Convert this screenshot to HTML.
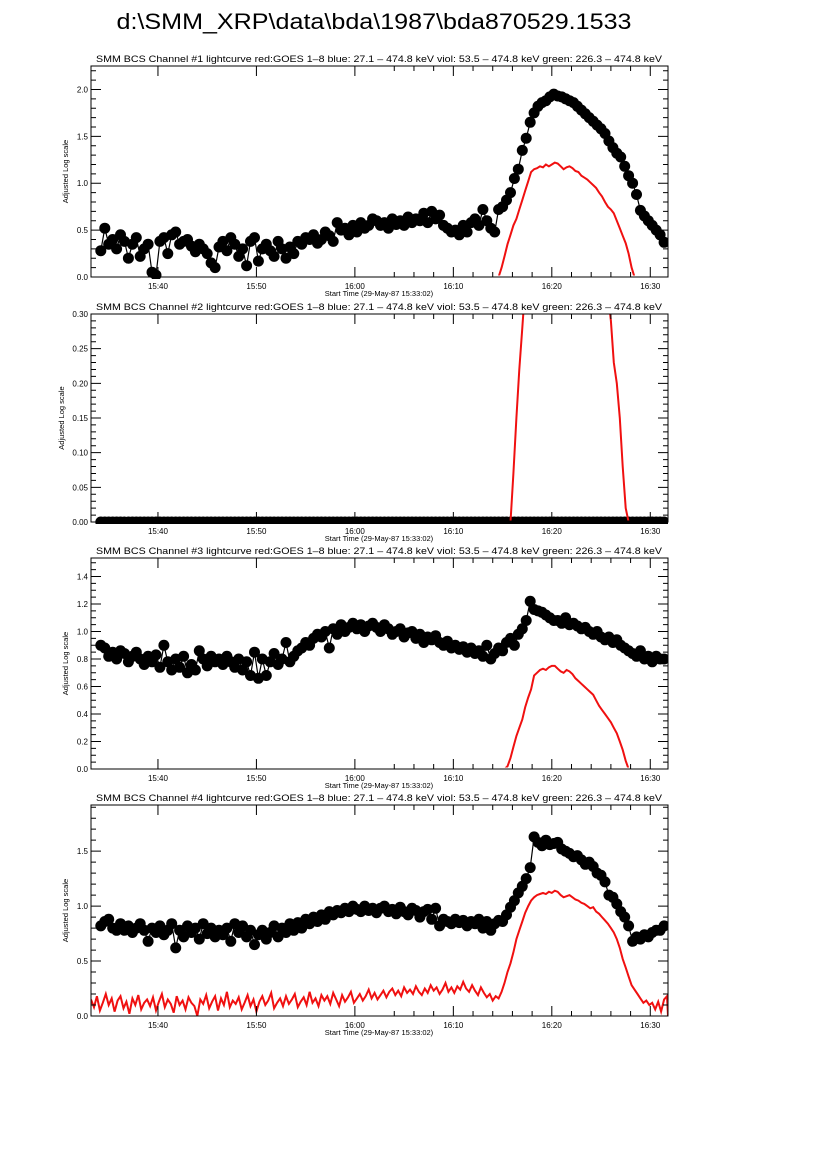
<!DOCTYPE html>
<html><head><meta charset="utf-8"><style>
html,body{margin:0;padding:0;background:#fff;}
svg{display:block;font-family:"Liberation Sans",sans-serif;}
</style></head><body>
<svg id="fig" width="826" height="1169" viewBox="0 0 826 1169" xmlns="http://www.w3.org/2000/svg">
<rect width="826" height="1169" fill="#fff"/>
<text x="374" y="29" font-size="22" text-anchor="middle" textLength="515" lengthAdjust="spacingAndGlyphs">d:\SMM_XRP\data\bda\1987\bda870529.1533</text>
</svg>
<script>
// time axis: minutes since 15:30
const tMin = 3.2, tMax = 61.8;
const blackT0 = 4.2, blackDt = 0.4;
const redT0 = 44.0, redDt = 0.3;
const red4T0 = 3.2, red4Dt = 0.3;
const xTickLabels = ["15:40","15:50","16:00","16:10","16:20","16:30"];
const xTickValues = [10,20,30,40,50,60];

const black1 = [0.28,0.52,0.35,0.40,0.30,0.45,0.38,0.20,0.35,0.42,
0.22,0.30,0.35,0.05,0.02,0.38,0.42,0.25,0.45,0.48,
0.35,0.38,0.40,0.33,0.27,0.35,0.30,0.25,0.15,0.10,
0.32,0.38,0.28,0.42,0.35,0.22,0.30,0.12,0.38,0.42,
0.17,0.30,0.35,0.28,0.22,0.38,0.30,0.20,0.32,0.25,
0.38,0.35,0.42,0.40,0.45,0.36,0.40,0.48,0.44,0.38,
0.58,0.50,0.52,0.45,0.55,0.48,0.58,0.52,0.55,0.62,
0.60,0.55,0.58,0.52,0.62,0.56,0.60,0.55,0.64,0.58,
0.62,0.60,0.68,0.58,0.70,0.62,0.66,0.55,0.52,0.48,
0.50,0.45,0.55,0.48,0.58,0.62,0.55,0.72,0.60,0.52,
0.48,0.72,0.75,0.82,0.90,1.05,1.15,1.35,1.48,1.65,
1.75,1.82,1.86,1.88,1.92,1.95,1.93,1.92,1.90,1.88,
1.86,1.82,1.78,1.74,1.70,1.66,1.62,1.58,1.53,1.45,
1.38,1.32,1.28,1.18,1.08,1.00,0.88,0.71,0.65,0.60,
0.55,0.50,0.45,0.37];
const black2 = new Array(144).fill(0);
const black3 = [0.90,0.88,0.82,0.85,0.80,0.86,0.84,0.78,0.82,0.85,
0.80,0.76,0.82,0.78,0.83,0.74,0.90,0.78,0.72,0.80,
0.74,0.82,0.70,0.76,0.72,0.86,0.80,0.75,0.82,0.78,
0.80,0.76,0.82,0.78,0.74,0.80,0.72,0.78,0.68,0.85,
0.66,0.80,0.68,0.78,0.84,0.76,0.80,0.92,0.78,0.82,
0.86,0.88,0.92,0.90,0.95,0.98,0.96,1.00,0.88,1.02,
0.98,1.05,1.00,1.03,1.06,1.02,1.05,1.00,1.04,1.06,
1.03,1.00,1.05,1.02,0.98,1.00,1.02,0.96,0.99,1.00,
0.95,0.98,0.92,0.96,0.94,0.97,0.92,0.90,0.93,0.88,
0.90,0.87,0.89,0.85,0.88,0.84,0.86,0.82,0.90,0.80,
0.84,0.88,0.86,0.92,0.95,0.90,0.98,1.02,1.08,1.22,
1.16,1.15,1.14,1.12,1.10,1.08,1.08,1.06,1.10,1.05,
1.06,1.04,1.02,1.03,1.00,0.98,1.00,0.96,0.94,0.96,
0.92,0.94,0.90,0.88,0.86,0.84,0.82,0.86,0.80,0.82,
0.78,0.82,0.80,0.80];
const black4 = [0.82,0.86,0.88,0.80,0.78,0.84,0.78,0.82,0.76,0.80,
0.84,0.78,0.68,0.80,0.76,0.82,0.74,0.78,0.84,0.62,
0.78,0.72,0.82,0.76,0.80,0.70,0.84,0.75,0.80,0.72,
0.78,0.74,0.80,0.68,0.84,0.76,0.82,0.72,0.78,0.65,
0.74,0.78,0.70,0.76,0.82,0.72,0.80,0.76,0.84,0.78,
0.85,0.80,0.88,0.84,0.90,0.86,0.92,0.88,0.95,0.92,
0.96,0.94,0.98,0.95,1.00,0.97,0.95,1.00,0.96,0.98,
0.94,0.98,1.00,0.95,0.97,0.93,0.99,0.95,0.92,0.98,
0.96,0.90,0.95,0.97,0.88,0.98,0.82,0.88,0.86,0.84,
0.88,0.85,0.87,0.82,0.86,0.84,0.88,0.80,0.86,0.78,
0.84,0.87,0.86,0.92,0.99,1.05,1.12,1.18,1.25,1.35,
1.63,1.58,1.55,1.60,1.56,1.57,1.58,1.52,1.50,1.48,
1.45,1.46,1.42,1.38,1.40,1.36,1.30,1.28,1.22,1.10,
1.08,1.02,0.95,0.90,0.82,0.68,0.72,0.70,0.74,0.72,
0.76,0.78,0.78,0.82];

const red1 = [0,0,0,0.1,0.22,0.35,0.45,0.55,0.62,0.72,
0.82,0.92,1.02,1.12,1.15,1.16,1.18,1.17,1.20,1.18,
1.20,1.22,1.21,1.18,1.15,1.17,1.18,1.16,1.13,1.12,
1.08,1.06,1.04,1.01,0.98,0.95,0.90,0.86,0.80,0.75,
0.72,0.68,0.60,0.52,0.44,0.36,0.25,0.10,0,0,0];
const red2 = [0,0,0,0,0,0,0,0.07,0.15,0.22,
0.28,0.34,1,1,1,1,1,1,1,1,
1,1,1,1,1,1,1,1,1,1,
1,1,1,1,1,1,1,1,0.35,0.33,
0.29,0.23,0.20,0.15,0.08,0.02,0,0,0,0,0];
const red3 = [0,0,0,0,0,0.02,0.08,0.16,0.24,0.30,
0.36,0.45,0.52,0.58,0.68,0.70,0.72,0.73,0.72,0.74,
0.75,0.75,0.73,0.71,0.70,0.72,0.71,0.69,0.66,0.64,
0.62,0.60,0.58,0.56,0.54,0.50,0.46,0.43,0.40,0.37,
0.34,0.30,0.26,0.20,0.14,0.06,0,0,0,0,0];
const red4 = [.15,.08,.18,.05,.12,.20,.10,.16,.04,.14,.18,.07,.13,.02,.16,.10,.19,.06,.12,.15,
.09,.17,.05,.13,.20,.08,.15,.11,.03,.18,.10,.14,.06,.17,.12,.09,.00,.15,.11,.19,
.07,.13,.18,.05,.16,.10,.22,.08,.14,.11,.17,.06,.12,.19,.09,.15,.04,.13,.18,.10,
.14,.21,.07,.12,.16,.09,.18,.11,.15,.20,.08,.13,.17,.10,.22,.12,.16,.09,.19,.14,
.18,.11,.21,.15,.09,.19,.13,.17,.22,.12,.16,.20,.14,.18,.24,.16,.21,.15,.19,.23,
.17,.22,.25,.19,.23,.18,.26,.21,.24,.20,.27,.22,.19,.25,.21,.28,.23,.26,.20,.24,
.30,.22,.26,.21,.27,.24,.31,.25,.22,.28,.23,.19,.26,.21,.17,.20,.14,.18,
.16,.22,.30,.40,.48,.58,.70,.78,.86,.94,1.0,1.05,1.08,1.10,1.11,1.12,1.11,1.13,1.12,1.14,
1.13,1.10,1.08,1.09,1.10,1.08,1.06,1.05,1.03,1.02,1.00,0.98,0.99,0.95,0.93,0.90,0.87,0.84,0.80,0.76,
0.70,0.62,0.52,0.44,0.36,0.28,0.24,0.20,0.16,.12,.14,.10,.12,.06,.13,.04,.15,.18];

const panels = [
 {n:1, top:66, bot:277, ymax:2.25, major:[0,0.5,1.0,1.5,2.0], fmt:1, minor:0.1, black:black1, red:red1, rt0:redT0},
 {n:2, top:314, bot:522, ymax:0.30, major:[0,0.05,0.10,0.15,0.20,0.25,0.30], fmt:2, minor:0.01, black:black2, red:red2, rt0:redT0},
 {n:3, top:558, bot:769, ymax:1.535, major:[0,0.2,0.4,0.6,0.8,1.0,1.2,1.4], fmt:1, minor:0.05, black:black3, red:red3, rt0:redT0},
 {n:4, top:805, bot:1016, ymax:1.92, major:[0,0.5,1.0,1.5], fmt:1, minor:0.1, black:black4, red:red4, rt0:red4T0}
];
const L = 91, R = 668;
const NS = "http://www.w3.org/2000/svg";
const svg = document.getElementById('fig');
function mk(tag, attrs, parent){const e=document.createElementNS(NS,tag);for(const k in attrs)e.setAttribute(k,attrs[k]);(parent||svg).appendChild(e);return e;}
const xs = t => L + (t - tMin) / (tMax - tMin) * (R - L);
const titleText = "SMM BCS Channel #N lightcurve  red:GOES 1\u20138  blue: 27.1 \u2013 474.8 keV  viol: 53.5 \u2013 474.8 keV  green: 226.3 \u2013 474.8 keV";

panels.forEach(p => {
  const ys = v => p.bot - v / p.ymax * (p.bot - p.top);
  const g = mk('g', {});
  
  
  const defs = mk('clipPath', {id:'clip'+p.n}, g);
  mk('rect', {x:L, y:p.top, width:R-L, height:p.bot-p.top+2}, defs);
  const defsR = mk('clipPath', {id:'clipr'+p.n}, g);
  mk('rect', {x:L, y:p.top, width:R-L, height:p.bot-p.top-1.5}, defsR);
  const tt = mk('text', {x:379, y:p.top-4, 'font-size':9, 'text-anchor':'middle', textLength:566, lengthAdjust:'spacingAndGlyphs'}, g);
  tt.textContent = titleText.replace('#N', '#' + p.n);
  
  
  // data
  const dg = mk('g', {'clip-path':'url(#clip'+p.n+')'}, g);
  const rg = mk('g', {'clip-path':'url(#clipr'+p.n+')'}, g);
  let d = '';
  p.black.forEach((v,i) => { d += (i?'L':'M') + xs(blackT0 + i*blackDt).toFixed(1) + ' ' + ys(v).toFixed(1); });
  const bl = mk('path', {d:d, fill:'none', stroke:'#000', 'stroke-width':1.2}, dg);
  
  
  p.black.forEach((v,i) => {
    const c = mk('circle', {cx:xs(blackT0 + i*blackDt).toFixed(1), cy:ys(v).toFixed(1), r:5.5, fill:'#000'}, dg);
    
    
  });
  let rd = '';
  const pts = [];
  if (p.rt0 > tMin) { pts.push([tMin, 0]); }
  p.red.forEach((v,i) => pts.push([p.rt0 + i*(p.n===4?red4Dt:redDt), v]));
  const lastT = pts[pts.length-1][0];
  if (lastT < tMax) pts.push([tMax, 0]);
  pts.forEach((q,i) => { rd += (i?'L':'M') + xs(q[0]).toFixed(1) + ' ' + ys(q[1]).toFixed(1); });
  const rl = mk('path', {d:rd, fill:'none', stroke:'#f01010', 'stroke-width':2}, p.n===4 ? dg : rg);
  
  
  const fr = mk('rect', {x:L, y:p.top, width:R-L, height:p.bot-p.top, fill:'none', stroke:'#000', 'stroke-width':1}, g);
  
  
  let tk = '';
  const nMin = Math.floor(p.ymax / p.minor + 1e-6);
  for (let k=0;k<=nMin;k++){ const y = ys(k*p.minor); tk += `M${L} ${y}h5M${R} ${y}h-5`; }
  p.major.forEach(v => { const y = ys(v); tk += `M${L} ${y}h10M${R} ${y}h-10`; });
  for (let t=34; t<=60; t+=2){ const x = xs(t); tk += `M${x} ${p.bot}v-5M${x} ${p.top}v5`; }
  xTickValues.forEach(t => { const x = xs(t); tk += `M${x} ${p.bot}v-10M${x} ${p.top}v10`; });
  const tp = mk('path', {d:tk, stroke:'#000', 'stroke-width':1, fill:'none'}, g);
  
  
  p.major.forEach(v => {
    const t = mk('text', {x:L-3, y:ys(v)+3, 'font-size':8, 'text-anchor':'end'}, g);
    t.textContent = v.toFixed(p.fmt);
    
    
  });
  xTickValues.forEach((tv,i) => {
    const t = mk('text', {x:xs(tv), y:p.bot+12, 'font-size':8, 'text-anchor':'middle'}, g);
    t.textContent = xTickLabels[i];
    
    
  });
  const xt = mk('text', {x:379, y:p.bot+19, 'font-size':7.5, 'text-anchor':'middle'}, g);
  xt.textContent = 'Start Time (29-May-87 15:33:02)';
  
  
  const cy = (p.top + p.bot)/2;
  const yx = p.n===2 ? 64 : 68;
  const yt = mk('text', {x:yx, y:cy, 'font-size':7.5, 'text-anchor':'middle', transform:`rotate(-90 ${yx} ${cy})`}, g);
  yt.textContent = 'Adjusted Log scale';
  
  
});
</script>
</body></html>
